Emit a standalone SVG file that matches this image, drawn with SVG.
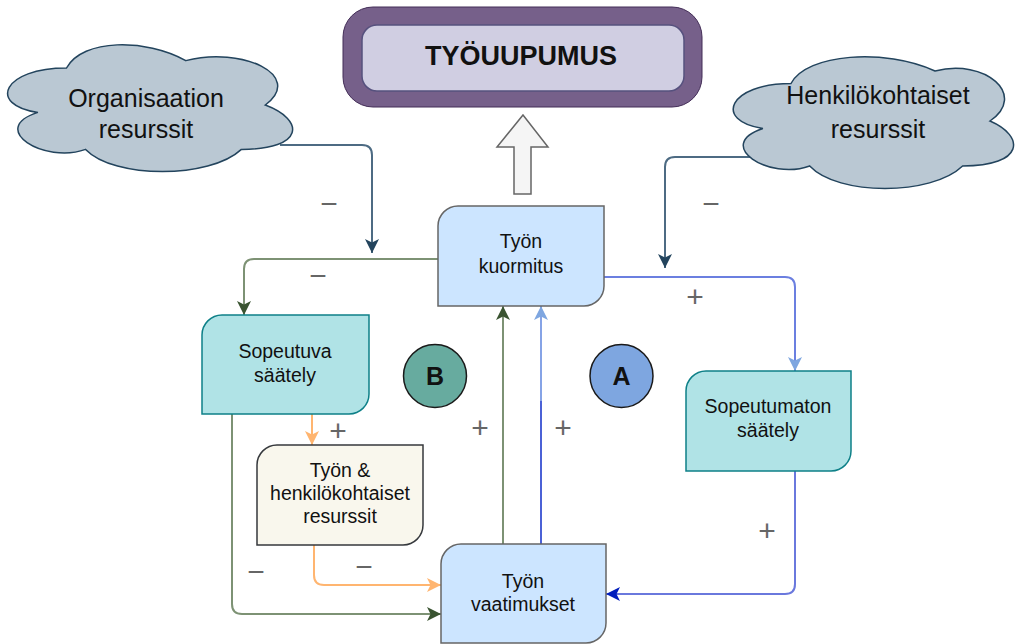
<svg xmlns="http://www.w3.org/2000/svg" width="1016" height="644" viewBox="0 0 1016 644">
  <style>
    .lbl { font-family: "Liberation Sans", Arial, sans-serif; fill: #111; text-anchor: middle; }
    .node { font-size: 19.5px; }
    .cloud-t { font-size: 25px; }
    .sign { font-family: "Liberation Sans", Arial, sans-serif; font-size: 30px; fill: #666; text-anchor: middle; }
    .edge { fill: none; stroke-width: 2; }
    .cloud { fill: #bac8d3; stroke: #23445d; stroke-width: 1.5; }
    .load { fill: #cce5ff; stroke: #666; stroke-width: 1.5; }
    .reg { fill: #b0e3e6; stroke: #0e8088; stroke-width: 1.5; }
    .res { fill: #f9f7ed; stroke: #36393d; stroke-width: 1.5; }
  </style>
  <defs>
    <marker id="ah-slate" viewBox="0 0 14 14" refX="14" refY="7" markerWidth="14" markerHeight="14" markerUnits="userSpaceOnUse" orient="auto">
      <path d="M0 0 L14 7 L0 14 L3.5 7 Z" fill="#23445d"/>
    </marker>
    <marker id="ah-green" viewBox="0 0 14 14" refX="14" refY="7" markerWidth="14" markerHeight="14" markerUnits="userSpaceOnUse" orient="auto">
      <path d="M0 0 L14 7 L0 14 L3.5 7 Z" fill="#3a5431"/>
    </marker>
    <marker id="ah-lblue" viewBox="0 0 14 14" refX="14" refY="7" markerWidth="14" markerHeight="14" markerUnits="userSpaceOnUse" orient="auto">
      <path d="M0 0 L14 7 L0 14 L3.5 7 Z" fill="#7ea6e0"/>
    </marker>
    <marker id="ah-dblue" viewBox="0 0 14 14" refX="14" refY="7" markerWidth="14" markerHeight="14" markerUnits="userSpaceOnUse" orient="auto">
      <path d="M0 0 L14 7 L0 14 L3.5 7 Z" fill="#001dbc"/>
    </marker>
    <marker id="ah-orange" viewBox="0 0 14 14" refX="14" refY="7" markerWidth="14" markerHeight="14" markerUnits="userSpaceOnUse" orient="auto">
      <path d="M0 0 L14 7 L0 14 L3.5 7 Z" fill="#ffb570"/>
    </marker>
  </defs>

  <rect width="1016" height="644" fill="#ffffff"/>

  <!-- connectors -->
  <g id="connectors">
    <path class="edge" d="M280 145 H362 Q372 145 372 155 V253" stroke="#4d6b83" marker-end="url(#ah-slate)"/>
    <path class="edge" d="M775 157 H675 Q665 157 665 167 V268" stroke="#4d6b83" marker-end="url(#ah-slate)"/>
    <path class="edge" d="M438 259 H254 Q244 259 244 269 V315" stroke="#7d9274" marker-end="url(#ah-green)"/>
    <path class="edge" d="M604 277 H785 Q795 277 795 287 V371" stroke="#6b7fe0" marker-end="url(#ah-lblue)"/>
    <path class="edge" d="M232 414 V604 Q232 614 242 614 H441" stroke="#7d9274" marker-end="url(#ah-green)"/>
    <path class="edge" d="M312 414 V445" stroke="#ffb570" marker-end="url(#ah-orange)"/>
    <path class="edge" d="M314 545 V575 Q314 585 324 585 H441" stroke="#ffb570" marker-end="url(#ah-orange)"/>
    <path class="edge" d="M503 544 V306" stroke="#7d9274" marker-end="url(#ah-green)"/>
    <path class="edge" d="M541 544 V400" stroke="#4b61d6"/>
    <path class="edge" d="M541 401 V306" stroke="#86a3e6" marker-end="url(#ah-lblue)"/>
    <path class="edge" d="M795 471 V584 Q795 594 785 594 H606" stroke="#6a78dd" marker-end="url(#ah-dblue)"/>
    <!-- escalation arrow towards burnout -->
    <polygon points="523,115 548,147 531,147 531,194 514,194 514,147 497,147" fill="#f5f5f5" stroke="#666" stroke-width="1.5"/>
  </g>

  <!-- polarity signs -->
  <g id="signs">
    <text class="sign" x="329" y="213.5">−</text>
    <text class="sign" x="711" y="213.5">−</text>
    <text class="sign" x="318" y="285.5">−</text>
    <text class="sign" x="695" y="306.5">+</text>
    <text class="sign" x="338" y="440.5">+</text>
    <text class="sign" x="256" y="581.5">−</text>
    <text class="sign" x="364" y="576.5">−</text>
    <text class="sign" x="480" y="437.5">+</text>
    <text class="sign" x="563" y="437.5">+</text>
    <text class="sign" x="767" y="540.5">+</text>
  </g>

  <g id="burnout">
    <rect x="343" y="7" width="359" height="100" rx="30" fill="#76608a" stroke="#432d57" stroke-width="1"/>
    <rect x="362" y="25" width="322" height="66" rx="15" fill="#d0cee2" stroke="#56517e" stroke-width="1.5"/>
    <text class="lbl" x="521" y="65" font-size="27" font-weight="bold">TYÖUUPUMUS</text>
  </g>

  <g id="org-resources">
    <path class="cloud" d="M66.5 68 C2.9 68 -13 105 37.9 112.4 C-13 128.7 44.2 164.2 85.6 149.4 C114.2 179 209.6 179 241.4 149.4 C305 149.4 305 119.8 265.3 105 C305 75.4 241.4 45.8 185.8 60.6 C146 38.4 82.4 38.4 66.5 68 Z"/>
    <text class="lbl cloud-t" x="146" y="107">Organisaation</text>
    <text class="lbl cloud-t" x="146" y="138">resurssit</text>
  </g>

  <g id="personal-resources">
    <path class="cloud" d="M791 83.5 C728.6 83.5 713 121 762.9 128.5 C713 145 769.2 181 809.7 166 C837.8 196 931.4 196 962.6 166 C1025 166 1025 136 990 121 C1028 95 985 58 935 71 C885 48 806.6 53.5 791 83.5 Z"/>
    <text class="lbl cloud-t" x="878" y="104">Henkilökohtaiset</text>
    <text class="lbl cloud-t" x="878" y="138">resurssit</text>
  </g>

  <g id="workload">
    <path class="load" d="M438 226 A20 20 0 0 1 458 206 H604 V286 A20 20 0 0 1 584 306 H438 Z"/>
    <text class="lbl node" x="521" y="248">Työn</text>
    <text class="lbl node" x="521" y="273">kuormitus</text>
  </g>

  <g id="adaptive-regulation">
    <path class="reg" d="M202 335 A20 20 0 0 1 222 315 H369 V394 A20 20 0 0 1 349 414 H202 Z"/>
    <text class="lbl node" x="285" y="358">Sopeutuva</text>
    <text class="lbl node" x="285" y="382">säätely</text>
  </g>

  <g id="maladaptive-regulation">
    <path class="reg" d="M686 391 A20 20 0 0 1 706 371 H851 V451 A20 20 0 0 1 831 471 H686 Z"/>
    <text class="lbl node" x="768" y="413">Sopeutumaton</text>
    <text class="lbl node" x="768" y="437">säätely</text>
  </g>

  <g id="work-personal-resources">
    <path class="res" d="M257 465 A20 20 0 0 1 277 445 H423 V525 A20 20 0 0 1 403 545 H257 Z"/>
    <text class="lbl node" x="340" y="477">Työn &amp;</text>
    <text class="lbl node" x="340" y="500">henkilökohtaiset</text>
    <text class="lbl node" x="340" y="523">resurssit</text>
  </g>

  <g id="job-demands">
    <path class="load" d="M441 564 A20 20 0 0 1 461 544 H606 V623 A20 20 0 0 1 586 643 H441 Z"/>
    <text class="lbl node" x="523" y="588">Työn</text>
    <text class="lbl node" x="523" y="611">vaatimukset</text>
  </g>

  <g id="loop-b">
    <circle cx="435" cy="376" r="31.5" fill="#67ab9f" stroke="#1a1a1a" stroke-width="1.5"/>
    <text class="lbl" x="435" y="385" font-size="25" font-weight="bold">B</text>
  </g>

  <g id="loop-a">
    <circle cx="621.5" cy="376" r="31.5" fill="#7ea6e0" stroke="#1a1a1a" stroke-width="1.5"/>
    <text class="lbl" x="621.5" y="385" font-size="25" font-weight="bold">A</text>
  </g>
</svg>
